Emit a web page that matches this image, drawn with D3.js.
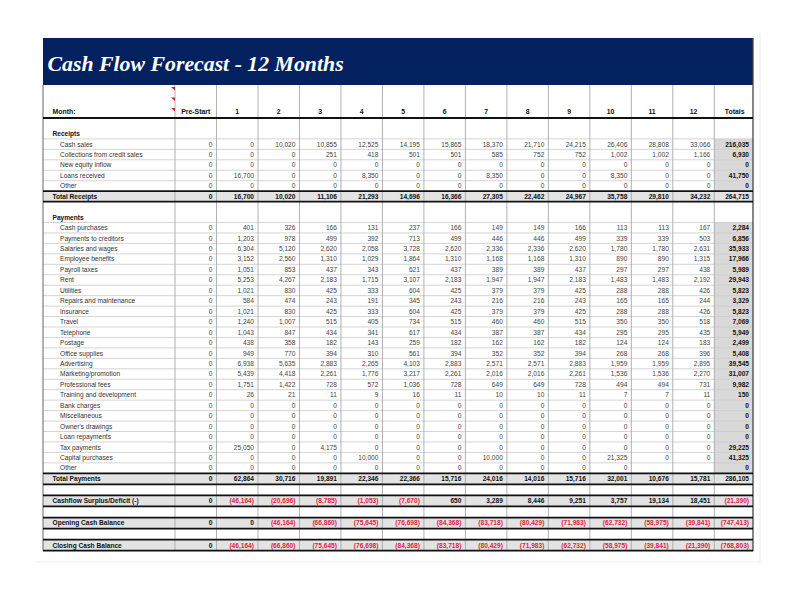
<!DOCTYPE html>
<html>
<head>
<meta charset="utf-8">
<script src="https://cdn.jsdelivr.net/npm/d3@7"></script>
<style>
  html, body { margin: 0; padding: 0; background: #ffffff; }
  svg { display: block; }
</style>
</head>
<body>
<svg id="chart" width="805" height="598"></svg>
<script>
// ---------------- DATA ----------------
const title = "Cash Flow Forecast - 12 Months";
const columns = ["Pre-Start", "1", "2", "3", "4", "5", "6", "7", "8", "9", "10", "11", "12", "Totals"];

// Receipts
const cashSales        = [0, 0, 10020, 10855, 12525, 14195, 15865, 18370, 21710, 24215, 26406, 28808, 33066, 216035];
const creditCollections= [0, 0, 0, 251, 418, 501, 501, 585, 752, 752, 1002, 1002, 1166, 6930];
const newEquity        = [0, 0, 0, 0, 0, 0, 0, 0, 0, 0, 0, 0, 0, 0];
const loansReceived    = [0, 16700, 0, 0, 8350, 0, 0, 8350, 0, 0, 8350, 0, 0, 41750];
const otherReceipts    = [0, 0, 0, 0, 0, 0, 0, 0, 0, 0, 0, 0, 0, 0];
const totalReceipts    = [0, 16700, 10020, 11106, 21293, 14696, 16366, 27305, 22462, 24967, 35758, 29810, 34232, 264715];

// Payments
const cashPurchases    = [0, 401, 326, 166, 131, 237, 166, 149, 149, 166, 113, 113, 167, 2284];
const paymentsCreditors= [0, 1203, 978, 499, 392, 713, 499, 446, 446, 499, 339, 339, 503, 6856];
const salaries         = [0, 6304, 5120, 2620, 2058, 3728, 2620, 2336, 2336, 2620, 1780, 1780, 2631, 35933];
const employeeBenefits = [0, 3152, 2560, 1310, 1029, 1864, 1310, 1168, 1168, 1310, 890, 890, 1315, 17966];
const payrollTaxes     = [0, 1051, 853, 437, 343, 621, 437, 389, 389, 437, 297, 297, 438, 5989];
const rent             = [0, 5253, 4267, 2183, 1715, 3107, 2183, 1947, 1947, 2183, 1483, 1483, 2192, 29943];
const utilities        = [0, 1021, 830, 425, 333, 604, 425, 379, 379, 425, 288, 288, 426, 5823];
const repairs          = [0, 584, 474, 243, 191, 345, 243, 216, 216, 243, 165, 165, 244, 3329];
const insurance        = [0, 1021, 830, 425, 333, 604, 425, 379, 379, 425, 288, 288, 426, 5823];
const travel           = [0, 1240, 1007, 515, 405, 734, 515, 460, 460, 515, 350, 350, 518, 7069];
const telephone        = [0, 1043, 847, 434, 341, 617, 434, 387, 387, 434, 295, 295, 435, 5949];
const postage          = [0, 438, 358, 182, 143, 259, 182, 162, 162, 182, 124, 124, 183, 2499];
const officeSupplies   = [0, 949, 770, 394, 310, 561, 394, 352, 352, 394, 268, 268, 396, 5408];
const advertising      = [0, 6938, 5635, 2883, 2265, 4103, 2883, 2571, 2571, 2883, 1959, 1959, 2895, 39545];
const marketing        = [0, 5439, 4418, 2261, 1776, 3217, 2261, 2016, 2016, 2261, 1536, 1536, 2270, 31007];
const professionalFees = [0, 1751, 1422, 728, 572, 1036, 728, 649, 649, 728, 494, 494, 731, 9982];
const training         = [0, 26, 21, 11, 9, 16, 11, 10, 10, 11, 7, 7, 11, 150];
const bankCharges      = [0, 0, 0, 0, 0, 0, 0, 0, 0, 0, 0, 0, 0, 0];
const miscellaneous    = [0, 0, 0, 0, 0, 0, 0, 0, 0, 0, 0, 0, 0, 0];
const ownersDrawings   = [0, 0, 0, 0, 0, 0, 0, 0, 0, 0, 0, 0, 0, 0];
const loanRepayments   = [0, 0, 0, 0, 0, 0, 0, 0, 0, 0, 0, 0, 0, 0];
const taxPayments      = [0, 25050, 0, 4175, 0, 0, 0, 0, 0, 0, 0, 0, 0, 29225];
const capitalPurchases = [0, 0, 0, 0, 10000, 0, 0, 10000, 0, 0, 21325, 0, 0, 41325];
const otherPayments    = [0, 0, 0, 0, 0, 0, 0, 0, 0, 0, 0, null, null, 0];
const totalPayments    = [0, 62864, 30716, 19891, 22346, 22366, 15716, 24016, 14016, 15716, 32001, 10676, 15781, 286105];

// Balances
const cashflow         = [0, -46164, -20696, -8785, -1053, -7670, 650, 3289, 8446, 9251, 3757, 19134, 18451, -21390];
const openingBalance   = [0, 0, -46164, -66860, -75645, -76698, -84368, -83718, -80429, -71983, -62732, -58975, -39841, -747413];
const closingBalance   = [0, -46164, -66860, -75645, -76698, -84368, -83718, -80429, -71983, -62732, -58975, -39841, -21390, -768803];

// ---------------- ROW TABLE ----------------
const rows = [
  {type: "blank"},
  {type: "section", label: "Receipts"},
  {type: "item", label: "Cash sales", values: cashSales},
  {type: "item", label: "Collections from credit sales", values: creditCollections},
  {type: "item", label: "New equity inflow", values: newEquity},
  {type: "item", label: "Loans received", values: loansReceived},
  {type: "item", label: "Other", values: otherReceipts},
  {type: "total", label: "Total Receipts", values: totalReceipts},
  {type: "blank"},
  {type: "section", label: "Payments"},
  {type: "item", label: "Cash purchases", values: cashPurchases},
  {type: "item", label: "Payments to creditors", values: paymentsCreditors},
  {type: "item", label: "Salaries and wages", values: salaries},
  {type: "item", label: "Employee benefits", values: employeeBenefits},
  {type: "item", label: "Payroll taxes", values: payrollTaxes},
  {type: "item", label: "Rent", values: rent},
  {type: "item", label: "Utilities", values: utilities},
  {type: "item", label: "Repairs and maintenance", values: repairs},
  {type: "item", label: "Insurance", values: insurance},
  {type: "item", label: "Travel", values: travel},
  {type: "item", label: "Telephone", values: telephone},
  {type: "item", label: "Postage", values: postage},
  {type: "item", label: "Office supplies", values: officeSupplies},
  {type: "item", label: "Advertising", values: advertising},
  {type: "item", label: "Marketing/promotion", values: marketing},
  {type: "item", label: "Professional fees", values: professionalFees},
  {type: "item", label: "Training and development", values: training},
  {type: "item", label: "Bank charges", values: bankCharges},
  {type: "item", label: "Miscellaneous", values: miscellaneous},
  {type: "item", label: "Owner's drawings", values: ownersDrawings},
  {type: "item", label: "Loan repayments", values: loanRepayments},
  {type: "item", label: "Tax payments", values: taxPayments},
  {type: "item", label: "Capital purchases", values: capitalPurchases},
  {type: "item", label: "Other", values: otherPayments},
  {type: "total", label: "Total Payments", values: totalPayments},
  {type: "blank"},
  {type: "total", label: "Cashflow Surplus/Deficit (-)", values: cashflow},
  {type: "blank"},
  {type: "total", label: "Opening Cash Balance", values: openingBalance},
  {type: "blank"},
  {type: "total", label: "Closing Cash Balance", values: closingBalance}
];

// ---------------- LAYOUT ----------------
const svg = d3.select("#chart");
const tableLeft = 43, tableRight = 753, labelRight = 175;
const barTop = 38, headerTop = 85, headerBottom = 118;

// x: column index -> left edge (13 equal columns, Totals narrower)
const xCol = d3.scaleLinear().domain([0, 13]).range([labelRight, 714.3]);
const colLeft = i => xCol(i);
const colRight = i => i < 13 ? xCol(i + 1) : tableRight;

// y: row index -> top edge (rows after Total Payments slightly taller)
const yRow = d3.scaleLinear().domain([0, 34, rows.length]).range([headerBottom, 473.3, 550.7]);

const fmt = d3.format(",");
const fmtVal = v => v == null ? "" : (v < 0 ? "(" + fmt(-v) + ")" : fmt(v));

const FONT = "'Liberation Sans', Arial, Helvetica, sans-serif";
const FS = 6.6;
const RED = "#e3223d";

// faint outer frame
svg.append("path")
  .attr("d", `M760,33 L760,562 L36,562`)
  .attr("fill", "none").attr("stroke", "#ececec").attr("stroke-width", 1);

// title bar
svg.append("rect").attr("x", tableLeft).attr("y", barTop)
  .attr("width", tableRight - tableLeft).attr("height", headerTop - barTop)
  .attr("fill", "#03215f");
svg.append("text").attr("x", 47.5).attr("y", 71)
  .attr("font-family", "'Liberation Serif', 'Times New Roman', serif")
  .attr("font-weight", "bold").attr("font-style", "italic")
  .attr("font-size", 21.8).attr("fill", "#ffffff")
  .text(title);

// row fills
rows.forEach((r, i) => {
  const y0 = yRow(i), y1 = yRow(i + 1);
  if (r.type === "total") {
    svg.append("rect").attr("x", tableLeft).attr("y", y0)
      .attr("width", tableRight - tableLeft).attr("height", y1 - y0)
      .attr("fill", "#e3e3e3");
  } else if (r.type === "item") {
    svg.append("rect").attr("x", colLeft(13)).attr("y", y0)
      .attr("width", colRight(13) - colLeft(13)).attr("height", y1 - y0)
      .attr("fill", "#d9d9d9");
  }
});

// light horizontal lines between rows
const lightLines = [];
for (let i = 1; i < rows.length; i++) {
  const above = rows[i - 1], below = rows[i];
  if (above.type === "total" || below.type === "total") continue;
  if (above.type === "blank" && below.type === "section") continue;
  lightLines.push(i);
}
svg.append("g").selectAll("line").data(lightLines).join("line")
  .attr("x1", tableLeft).attr("x2", tableRight)
  .attr("y1", d => yRow(d)).attr("y2", d => yRow(d))
  .attr("stroke", "#c9c9c9").attr("stroke-width", 0.8);

// vertical grid lines
const vLines = d3.range(0, 14).map(i => colLeft(i));
svg.append("g").selectAll("line").data(vLines).join("line")
  .attr("x1", d => d).attr("x2", d => d)
  .attr("y1", headerTop).attr("y2", yRow(rows.length))
  .attr("stroke", "#a8a8a8").attr("stroke-width", 0.9);
// outer borders
svg.append("line").attr("x1", tableLeft).attr("x2", tableLeft)
  .attr("y1", headerTop).attr("y2", yRow(rows.length))
  .attr("stroke", "#666").attr("stroke-width", 1);
svg.append("line").attr("x1", tableRight).attr("x2", tableRight)
  .attr("y1", barTop).attr("y2", yRow(rows.length) + 0.5)
  .attr("stroke", "#444").attr("stroke-width", 1.3);

// thick lines: header bottom and around totals
const thick = [0];
rows.forEach((r, i) => { if (r.type === "total") { thick.push(i, i + 1); } });
svg.append("g").selectAll("line").data(thick).join("line")
  .attr("x1", tableLeft).attr("x2", tableRight)
  .attr("y1", d => yRow(d)).attr("y2", d => yRow(d))
  .attr("stroke", "#111").attr("stroke-width", 1.8);

// comment indicators
svg.append("g").selectAll("path").data([87, 97.5, 108]).join("path")
  .attr("d", d => `M171,${d} L175,${d} L175,${d + 3.5} Z`)
  .attr("fill", "#d0202a");

// header texts
const header = svg.append("g").attr("font-family", FONT).attr("font-weight", "bold")
  .attr("font-size", 6.9).attr("fill", "#111");
header.append("text").attr("x", 52.5).attr("y", 114.3).text("Month:");
header.selectAll("text.col").data(columns).join("text").attr("class", "col")
  .attr("x", (d, i) => i === 13 ? (colLeft(i) + colRight(i)) / 2 + 1 : (colLeft(i) + colRight(i)) / 2)
  .attr("y", 114.3).attr("text-anchor", "middle")
  .text(d => d);

// row texts
const body = svg.append("g").attr("font-family", FONT).attr("font-size", FS);
rows.forEach((r, i) => {
  if (r.type === "blank") return;
  const yc = (yRow(i) + yRow(i + 1)) / 2 + 2.4;
  const isBold = r.type !== "item";
  body.append("text")
    .attr("x", r.type === "item" ? 60 : 52.5).attr("y", yc)
    .attr("font-weight", isBold ? "bold" : "normal")
    .attr("fill", isBold ? "#111" : "#333")
    .text(r.label);
  if (!r.values) return;
  body.selectAll(null).data(r.values).join("text")
    .attr("x", (d, j) => colRight(j) - 4)
    .attr("y", yc)
    .attr("text-anchor", "end")
    .attr("font-weight", (d, j) => (isBold || j === 13) ? "bold" : "normal")
    .attr("fill", (d, j) => d != null && d < 0 ? RED : ((isBold || j === 13) ? "#111" : "#444"))
    .text(d => fmtVal(d));
});
</script>
</body>
</html>
